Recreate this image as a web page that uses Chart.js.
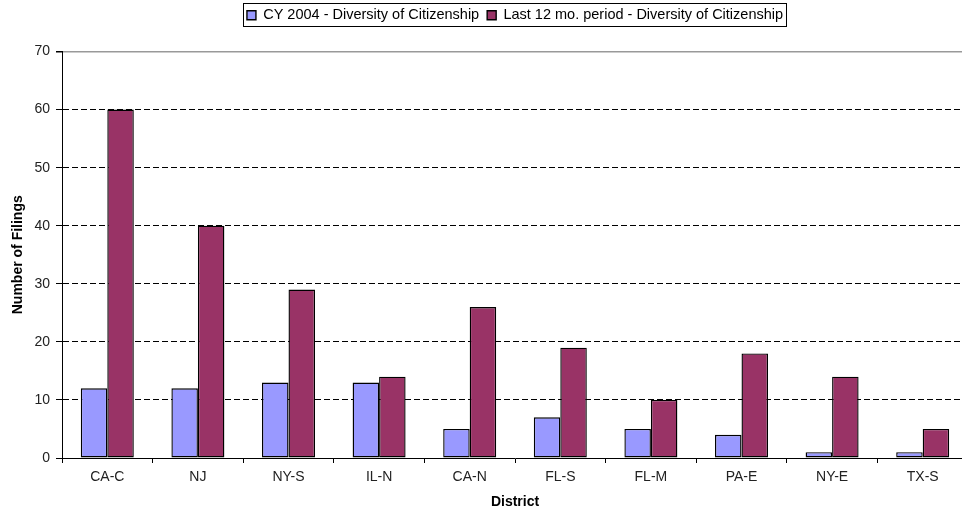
<!DOCTYPE html>
<html>
<head>
<meta charset="utf-8">
<script src="https://cdn.jsdelivr.net/npm/chart.js@4"></script>
<style>
  body { margin: 0; overflow: hidden; background: #fff; }
</style>
</head>
<body>
<canvas id="myChart" width="970" height="513"></canvas>
<script>
//data
const districts = ['CA-C', 'NJ', 'NY-S', 'IL-N', 'CA-N', 'FL-S', 'FL-M', 'PA-E', 'NY-E', 'TX-S'];
const cy2004 = [12, 12, 13, 13, 5, 7, 5, 4, 1, 1];
const last12 = [60, 40, 29, 14, 26, 19, 10, 18, 14, 5];
const yTicks = [0, 10, 20, 30, 40, 50, 60, 70];

const fontName = 'Arial, "Liberation Sans", sans-serif';

// legend: centre it over the plot and draw a box round it
const legendBox = {
    id: 'legendBox',
    beforeInit(chart) {
        const fitLegend = chart.legend.fit;
        chart.legend.fit = function () {
            fitLegend.bind(chart.legend)();
            this.height += 19;
        };
    },
    afterLayout(chart) {
        chart.legend.left = chart.chartArea.left;
        chart.legend.right = chart.chartArea.right;
    },
    afterDraw(chart) {
        const hb = chart.legend.legendHitBoxes;
        if (!hb || !hb.length) return;
        const last = hb[hb.length - 1];
        const ctx = chart.ctx;
        ctx.save();
        ctx.strokeStyle = '#000';
        ctx.lineWidth = 1;
        const x1 = Math.round(hb[0].left - 4) + 0.5;
        const x2 = Math.round(last.left + last.width + 3) + 0.5;
        const y1 = Math.round(hb[0].top - 5) + 0.5;
        const y2 = Math.round(hb[0].top + hb[0].height + 3) + 0.5;
        ctx.strokeRect(x1, y1, x2 - x1, y2 - y1);
        ctx.restore();
    }
};

var ctx = document.getElementById('myChart').getContext('2d');
var chart = new Chart(ctx, {
    type: 'bar',
    data: {
        labels: districts,
        datasets: [{
            label: 'CY 2004 - Diversity of Citizenship',
            backgroundColor: '#9999FF',
            borderColor: '#000',
            borderWidth: 1.4,
            borderSkipped: false,
            data: cy2004
        }, {
            label: 'Last 12 mo. period - Diversity of Citizenship',
            backgroundColor: '#993366',
            borderColor: '#000',
            borderWidth: 1.4,
            borderSkipped: false,
            data: last12
        }]
    },
    options: {
        responsive: false,
        animation: false,
        devicePixelRatio: 1,
        layout: { padding: { left: 0, right: 2, top: 0, bottom: 0 } },
        datasets: { bar: { categoryPercentage: 0.585, barPercentage: 1 } },
        plugins: {
            legend: {
                position: 'top',
                labels: {
                    color: '#000',
                    font: { family: fontName, size: 14.5 },
                    boxWidth: 9,
                    boxHeight: 9,
                    padding: 8
                }
            },
            tooltip: { enabled: false }
        },
        scales: {
            x: {
                afterFit(scale) { scale.height = 55; },
                grid: {
                    display: true,
                    drawOnChartArea: false,
                    offset: true,
                    color: '#000',
                    tickColor: '#000',
                    tickLength: 5
                },
                border: { display: true, color: '#000', width: 1 },
                ticks: {
                    color: '#222',
                    padding: 6,
                    font: { family: fontName, size: 14 }
                },
                title: {
                    display: true,
                    text: 'District',
                    color: '#000',
                    padding: { top: 0, bottom: 2 },
                    font: { family: fontName, size: 14, weight: 'bold' }
                }
            },
            y: {
                min: 0,
                max: 70,
                afterFit(scale) { scale.width = 62; },
                afterBuildTicks(scale) { scale.ticks = yTicks.map(v => ({ value: v })); },
                grid: {
                    color: (c) => {
                        if (!c.tick) return '#000';
                        if (c.tick.value === 0) return 'rgba(0,0,0,0)';
                        if (c.tick.value === 70) return '#999';
                        return '#000';
                    },
                    lineWidth: (c) => (c.tick && c.tick.value === 70) ? 1.5 : 1,
                    tickColor: '#000',
                    tickBorderDash: [],
                    tickLength: 6
                },
                border: {
                    display: true,
                    color: '#000',
                    width: 1,
                    dash: (c) => (c.tick && c.tick.value !== 70) ? [6, 3] : []
                },
                ticks: {
                    color: '#222',
                    padding: 6,
                    font: { family: fontName, size: 14 }
                },
                title: {
                    display: true,
                    text: 'Number of Filings',
                    color: '#000',
                    padding: { top: 10, bottom: 0 },
                    font: { family: fontName, size: 14, weight: 'bold' }
                }
            }
        }
    },
    plugins: [legendBox]
});
</script>
</body>
</html>
